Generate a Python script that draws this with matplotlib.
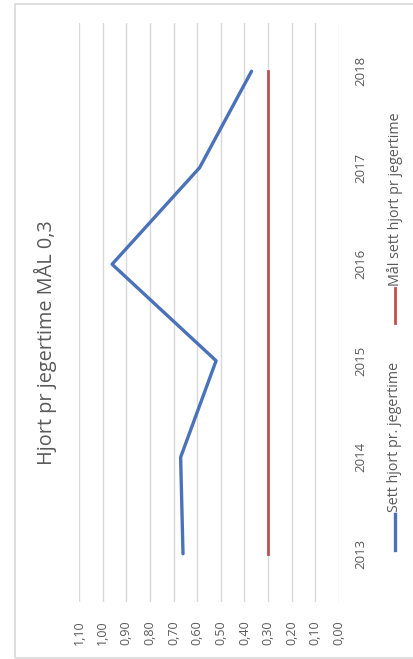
import matplotlib
matplotlib.use("Agg")
import matplotlib.pyplot as plt
from matplotlib.lines import Line2D
from matplotlib.patches import Rectangle

# data
years = [2013, 2014, 2015, 2016, 2017, 2018]
sett_hjort = [0.66, 0.67, 0.52, 0.96, 0.59, 0.37]
maal = [0.30, 0.30, 0.30, 0.30, 0.30, 0.30]
value_ticks = [0.0, 0.1, 0.2, 0.3, 0.4, 0.5, 0.6, 0.7, 0.8, 0.9, 1.0, 1.1]
title = "Hjort pr jegertime MÅL 0,3"
legend_labels = ["Sett hjort pr. jegertime", "Mål sett hjort pr jegertime"]

blue = "#4A72B8"
red = "#C0504D"
grey_text = "#595959"

plt.rcParams['font.family'] = ['Open Sans', 'DejaVu Sans']

W, H = 414, 659
fig = plt.figure(figsize=(W / 100, H / 100), dpi=100)

# outer chart border (chart is turned 90 degrees)
fig.add_artist(Rectangle((15 / W, 1 - 658 / H), 1.2, (658 - 4) / H,
                         transform=fig.transFigure, fill=False,
                         edgecolor="#D9D9D9", lw=1.2))

ax = fig.add_axes([79 / W, 1 - 602 / H, (339 - 79) / W, (602 - 23) / H])
ax.plot(sett_hjort, years, color=blue, lw=2.4, solid_capstyle="round",
        solid_joinstyle="round")
ax.plot(maal, years, color=red, lw=2.0)

ax.set_xlim(1.10, 0.0)
ax.set_ylim(2012.5, 2018.5)
ax.set_xticks(value_ticks)
ax.set_xticklabels([f"{v:.2f}".replace(".", ",") for v in value_ticks],
                   rotation=90, fontsize=9, color=grey_text)
ax.set_yticks(years)
ax.set_yticklabels([str(y) for y in years], rotation=90, va="center",
                   fontsize=9.5, color=grey_text)
ax.yaxis.tick_right()
ax.tick_params(length=0)
ax.tick_params(axis="x", pad=13)
ax.tick_params(axis="y", pad=11)
ax.grid(axis="x", color="#D9D9D9", lw=1)
ax.set_axisbelow(True)
for s in ax.spines.values():
    s.set_visible(False)

# title, turned
fig.text(45 / W, 1 - 343 / H, title, rotation=90, ha="center", va="center",
         fontsize=14.3, color=grey_text)

# legend, drawn by hand because it is turned
lx = 395 / W
fig.add_artist(Line2D([lx, lx], [1 - 550 / H, 1 - 514 / H], color=blue, lw=2.4,
                      transform=fig.transFigure))
fig.text(lx, 1 - 512 / H, legend_labels[0], rotation=90, ha="center", va="bottom",
         fontsize=10.3, color=grey_text)
fig.add_artist(Line2D([lx, lx], [1 - 323 / H, 1 - 288 / H], color=red, lw=2.0,
                      transform=fig.transFigure))
fig.text(lx, 1 - 286 / H, legend_labels[1], rotation=90, ha="center", va="bottom",
         fontsize=10.3, color=grey_text)

fig.savefig("out.png", dpi=100)
